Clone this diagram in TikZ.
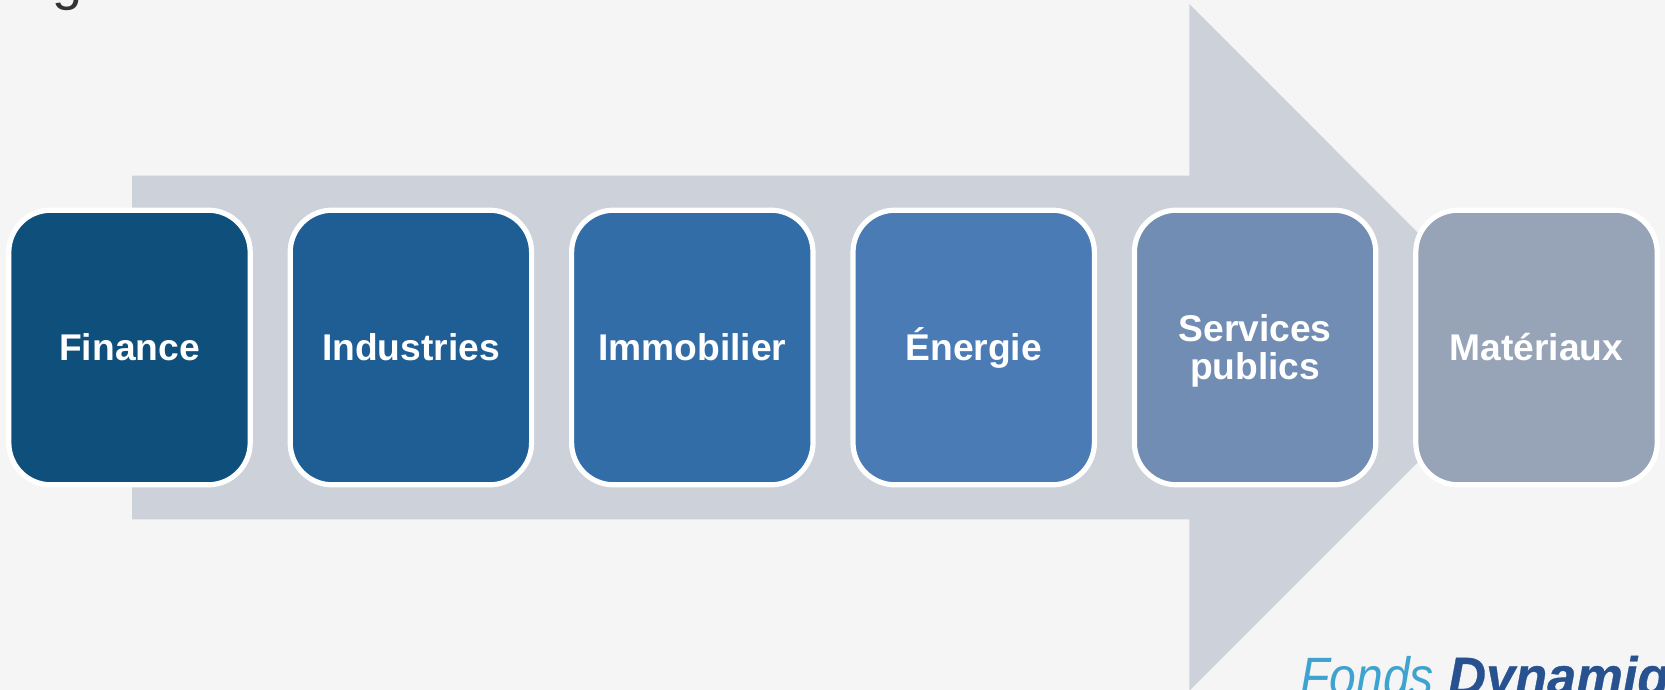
\documentclass[tikz,border=0pt]{standalone}
\usepackage{fontspec}
\setmainfont{Liberation Sans}
\definecolor{pagebg}{HTML}{F5F5F5}
\definecolor{arrowgray}{HTML}{CDD1DA}
\definecolor{titlegray}{HTML}{333333}
\definecolor{fondsblue}{HTML}{3FA3CF}
\definecolor{dynblue}{HTML}{27528F}
\definecolor{financecol}{HTML}{0F4F7B}
\definecolor{industriescol}{HTML}{1F5E94}
\definecolor{immobiliercol}{HTML}{336DA8}
\definecolor{energiecol}{HTML}{4A7BB5}
\definecolor{servicescol}{HTML}{718DB3}
\definecolor{materiauxcol}{HTML}{97A3B7}
\begin{document}
\begin{tikzpicture}[x=1pt,y=-1pt,
    sector/.style={draw=white,line width=5.2pt,rounded corners=42pt,minimum width=241.4pt,
        minimum height=274.6pt,inner sep=0pt,outer sep=0pt,text=white,align=center,
        font=\fontsize{37.2}{38}\selectfont\bfseries},
    logotext/.style={anchor=base west,inner sep=0pt,font=\fontsize{54}{54}\selectfont\itshape}]
    \useasboundingbox (0,0) rectangle (1665,690);
    \clip (0,0) rectangle (1665,690);
    \fill[pagebg] (0,0) rectangle (1665,690);
    \fill[arrowgray] (132,175.7)--(1189.4,175.7)--(1189.4,4)--(1532.5,347.5)--(1189.4,690.6)--(1189.4,519.3)--(132,519.3)--cycle;
    \node[anchor=base,inner sep=0pt,text=titlegray,font=\fontsize{54}{54}\selectfont] (title) at (67.5,0) {g};
    \node[sector,fill=financecol] (finance) at (129.5,347.5) {Finance};
    \node[sector,fill=industriescol] (industries) at (410.9,347.5) {Industries};
    \node[sector,fill=immobiliercol] (immobilier) at (692.3,347.5) {Immobilier};
    \node[sector,fill=energiecol] (energie) at (973.7,347.5) {Énergie};
    \node[sector,fill=servicescol] (services) at (1255.1,347.5) {\rule{0pt}{33pt}Services\\publics};
    \node[sector,fill=materiauxcol] (materiaux) at (1536.5,347.5) {Matériaux};
    \node[logotext,text=fondsblue,xscale=0.89] (fonds) at (1300,695) {Fonds};
    \node[logotext,text=dynblue,xscale=0.97,font=\fontsize{54}{54}\selectfont\bfseries\itshape\addfontfeature{FakeBold=0.6}] (dynamiq) at (1448,695) {Dynamiq};
\end{tikzpicture}
\end{document}
